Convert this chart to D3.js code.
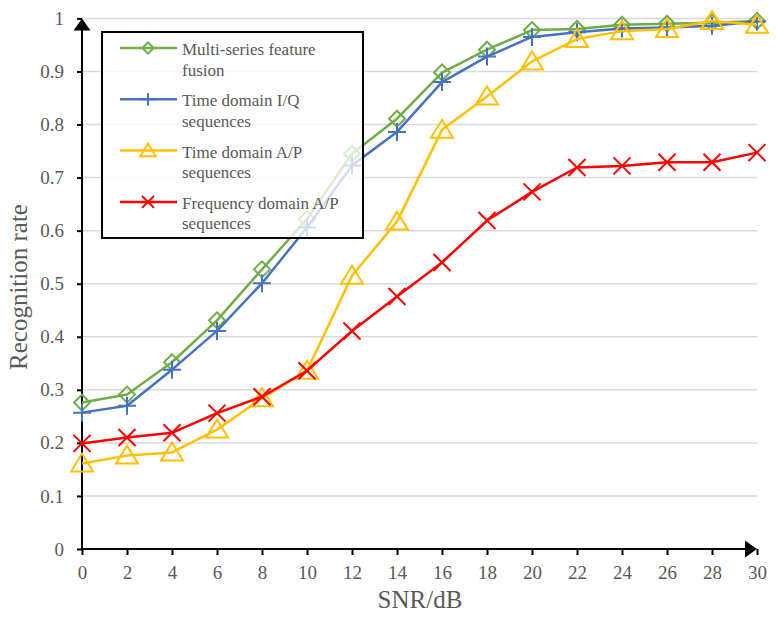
<!DOCTYPE html>
<html><head><meta charset="utf-8">
<script src="https://cdn.jsdelivr.net/npm/d3@7"></script>
<style>body{margin:0;background:#fff;} svg{display:block;}</style>
</head><body>
<svg id="chart" width="776" height="617"></svg>
<script>
const snr = [0,2,4,6,8,10,12,14,16,18,20,22,24,26,28,30];
const fusion = [0.276,0.291,0.352,0.431,0.527,0.622,0.745,0.811,0.898,0.941,0.978,0.980,0.988,0.990,0.992,0.995];
const timeIQ = [0.257,0.270,0.338,0.411,0.501,0.606,0.723,0.786,0.880,0.928,0.965,0.974,0.981,0.983,0.986,0.994];
const timeAP = [0.161,0.176,0.182,0.225,0.284,0.336,0.515,0.617,0.790,0.853,0.919,0.961,0.976,0.980,0.995,0.988];
const freqAP = [0.199,0.210,0.219,0.256,0.287,0.336,0.411,0.476,0.540,0.619,0.673,0.719,0.722,0.729,0.729,0.747];
const yTicks = [0,0.1,0.2,0.3,0.4,0.5,0.6,0.7,0.8,0.9,1];
const seriesNames = [["Multi-series feature","fusion"],["Time domain I/Q","sequences"],["Time domain A/P","sequences"],["Frequency domain A/P","sequences"]];
const seriesColors = ["#70AD47","#4472C4","#FFC000","#FF0000"];
const seriesMarkers = ["diamond","plus","triangle","cross"];
const seriesData = [fusion,timeIQ,timeAP,freqAP];

const svg = d3.select("#chart");
const x = d3.scaleLinear().domain([0,30]).range([82,757]);
const y = d3.scaleLinear().domain([0,1]).range([549,18.4]);
const font = "'Liberation Serif','Times New Roman',serif";
const gray = "#595959";

// gridlines
svg.append("g").selectAll("line").data(yTicks.filter(d=>d>0)).join("line")
  .attr("x1",x(0)).attr("x2",x(30)).attr("y1",d=>y(d)).attr("y2",d=>y(d))
  .attr("stroke","#d9d9d9").attr("stroke-width",1.5);

// axes
const yAxis = d3.axisLeft(y).tickValues(yTicks).tickSize(5).tickPadding(13).tickFormat(d=>d===0?"0":(d===1?"1":d3.format(".1f")(d)));
const gy = svg.append("g").attr("transform",`translate(${x(0)},0)`).call(yAxis);
const xAxis = d3.axisBottom(x).tickValues(snr).tickSize(6).tickPadding(11).tickFormat(d3.format("d"));
const gx = svg.append("g").attr("transform",`translate(0,${y(0)})`).call(xAxis);
[gx,gy].forEach(g=>{
  g.select(".domain").remove();
  g.selectAll(".tick line").attr("stroke","#000").attr("stroke-width",2);
  g.selectAll(".tick text").attr("fill",gray).style("font-family",font).style("font-size","19px");
});
svg.append("line").attr("x1",x(0)).attr("x2",x(30)-6).attr("y1",y(0)).attr("y2",y(0)).attr("stroke","#000").attr("stroke-width",2);
svg.append("line").attr("x1",x(0)).attr("x2",x(0)).attr("y1",y(0)+1).attr("y2",y(1)+6).attr("stroke","#000").attr("stroke-width",2);
svg.append("path").attr("d",`M${x(30)},${y(0)} L${x(30)-12},${y(0)-8.5} L${x(30)-12},${y(0)+8.5} Z`).attr("fill","#000");
svg.append("path").attr("d",`M${x(0)},${y(1)} L${x(0)-8.5},${y(1)+12} L${x(0)+8.5},${y(1)+12} Z`).attr("fill","#000");

// axis titles
svg.append("text").attr("x",420).attr("y",608).attr("text-anchor","middle")
  .attr("fill",gray).style("font-family",font).style("font-size","25px").text("SNR/dB");
svg.append("text").attr("transform","translate(27,287) rotate(-90)").attr("text-anchor","middle")
  .attr("fill",gray).style("font-family",font).style("font-size","25px").text("Recognition rate");

function markerPath(type,s){
  if(type==="diamond") return `M0,${-8*s} L${8*s},0 L0,${8*s} L${-8*s},0 Z`;
  if(type==="triangle") return `M0,${-10*s} L${11*s},${8*s} L${-11*s},${8*s} Z`;
  if(type==="plus") return `M${-9*s},0 L${9*s},0 M0,${-9*s} L0,${9*s}`;
  return `M${-8.5*s},${-8.5*s} L${8.5*s},${8.5*s} M${-8.5*s},${8.5*s} L${8.5*s},${-8.5*s}`;
}

const line = d3.line().x((d,i)=>x(snr[i])).y(d=>y(d));
seriesData.forEach((vals,k)=>{
  const g = svg.append("g");
  g.append("path").attr("d",line(vals)).attr("fill","none").attr("stroke",seriesColors[k]).attr("stroke-width",2.5).attr("stroke-linejoin","round");
  g.selectAll("path.m").data(vals).join("path").attr("class","m")
    .attr("transform",(d,i)=>`translate(${x(snr[i])},${y(d)})`)
    .attr("d",markerPath(seriesMarkers[k],1)).attr("fill","none")
    .attr("stroke",seriesColors[k]).attr("stroke-width",2);
});

// legend
const lg = svg.append("g");
lg.append("rect").attr("x",102).attr("y",32).attr("width",261).attr("height",206)
  .attr("fill","#fff").attr("fill-opacity",0.75).attr("stroke","#000").attr("stroke-width",2);
seriesNames.forEach((nm,k)=>{
  const cy = 48 + k*51.3;
  lg.append("line").attr("x1",120).attr("x2",177).attr("y1",cy).attr("y2",cy).attr("stroke",seriesColors[k]).attr("stroke-width",2.5);
  lg.append("path").attr("transform",`translate(148,${cy})`).attr("d",markerPath(seriesMarkers[k],0.7))
    .attr("fill","none").attr("stroke",seriesColors[k]).attr("stroke-width",2);
  nm.forEach((t,j)=>{
    lg.append("text").attr("x",182).attr("y",cy+7+j*20.5).attr("fill",gray)
      .style("font-family",font).style("font-size","17px").text(t);
  });
});
</script>
</body></html>
